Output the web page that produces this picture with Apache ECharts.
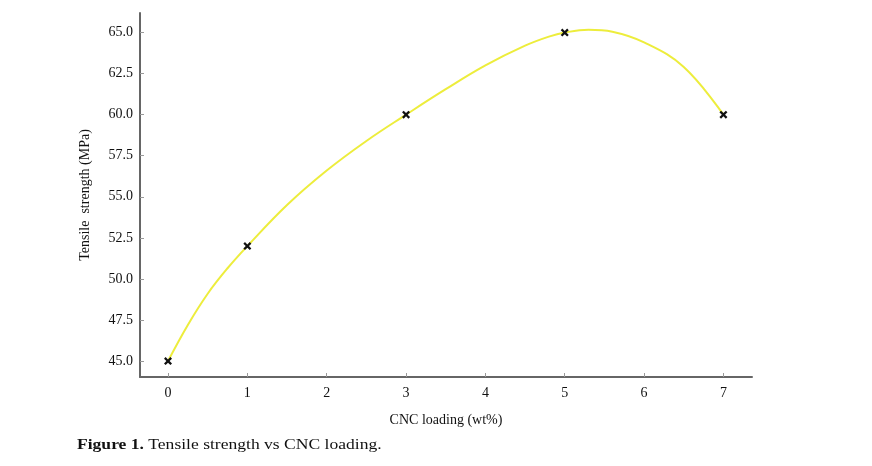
<!DOCTYPE html>
<html>
<head>
<meta charset="utf-8">
<script src="https://cdn.jsdelivr.net/npm/echarts@6/dist/echarts.min.js"></script>
<style>
  html, body { margin: 0; padding: 0; background: #fff; }
  #chart { width: 872px; height: 466px; }
</style>
</head>
<body>
<div id="chart"></div>
<script>
// measured points: CNC loading (wt%) vs tensile strength (MPa)
const cncLoading = [0, 1, 3, 5, 7];
const tensileStrength = [45, 52, 60, 65, 60];

// fitted curve
const curveX = [0, 0.25, 0.5, 0.75, 1, 1.5, 2, 2.5, 3, 3.5, 4, 4.5, 4.8, 5, 5.3, 5.6, 6, 6.5, 7];
const curveY = [45, 47.2, 49.1, 50.65, 52, 54.5, 56.6, 58.4, 60, 61.55, 63.0, 64.2, 64.75, 65, 65.17, 65.05, 64.4, 62.9, 60];

const xTicks = [0, 1, 2, 3, 4, 5, 6, 7];
const yTicks = [45, 47.5, 50, 52.5, 55, 57.5, 60, 62.5, 65];

const chart = echarts.init(document.getElementById("chart"));
const font = "Liberation Serif";
const axisGray = "#666";

const option = {
  animation: false,
  backgroundColor: "#fff",
  grid: { left: 140, right: 120, top: 13, bottom: 89 },
  xAxis: {
    type: "value",
    min: -0.353,
    max: 7.36,
    name: "CNC loading (wt%)",
    nameLocation: "middle",
    nameGap: 36,
    nameTextStyle: { fontFamily: font, fontSize: 14, color: "#111" },
    axisLine: { show: true, onZero: false, lineStyle: { color: axisGray, width: 2 } },
    axisTick: { show: true, inside: true, length: 4, customValues: xTicks, lineStyle: { color: "#999" } },
    axisLabel: { customValues: xTicks, fontFamily: font, fontSize: 14, color: "#111", margin: 9 },
    splitLine: { show: false }
  },
  yAxis: {
    type: "value",
    min: 44.03,
    max: 66.19,
    name: "Tensile  strength (MPa)",
    nameLocation: "middle",
    nameGap: 48,
    nameTextStyle: { fontFamily: font, fontSize: 14, color: "#111" },
    axisLine: { show: true, onZero: false, lineStyle: { color: axisGray, width: 2 } },
    axisTick: { show: true, inside: true, length: 4, customValues: yTicks, lineStyle: { color: "#999" } },
    axisLabel: {
      customValues: yTicks,
      fontFamily: font, fontSize: 14, color: "#111", margin: 7,
      formatter: v => v.toFixed(1)
    },
    splitLine: { show: false }
  },
  series: [
    {
      name: "fit",
      type: "line",
      data: curveX.map((x, i) => [x, curveY[i]]),
      smooth: 0.4,
      showSymbol: false,
      lineStyle: { color: "#eded3c", width: 2 },
      z: 2
    },
    {
      name: "Tensile strength",
      type: "line",
      data: cncLoading.map((x, i) => [x, tensileStrength[i]]),
      lineStyle: { width: 0, opacity: 0 },
      symbol: "path://M0,2L2,0L5,3L8,0L10,2L7,5L10,8L8,10L5,7L2,10L0,8L3,5Z",
      symbolSize: 8,
      itemStyle: { color: "#111" },
      z: 3
    }
  ],
  graphic: [{
    type: "text",
    left: 77,
    top: 438,
    scaleX: 1.17,
    style: {
      text: "{b|Figure 1.} Tensile strength vs CNC loading.",
      font: "15px " + font,
      fill: "#111",
      rich: {
        b: { fontFamily: font, fontSize: 15, fontWeight: "bold", fill: "#111" }
      }
    }
  }]
};

chart.setOption(option);
</script>
</body>
</html>
